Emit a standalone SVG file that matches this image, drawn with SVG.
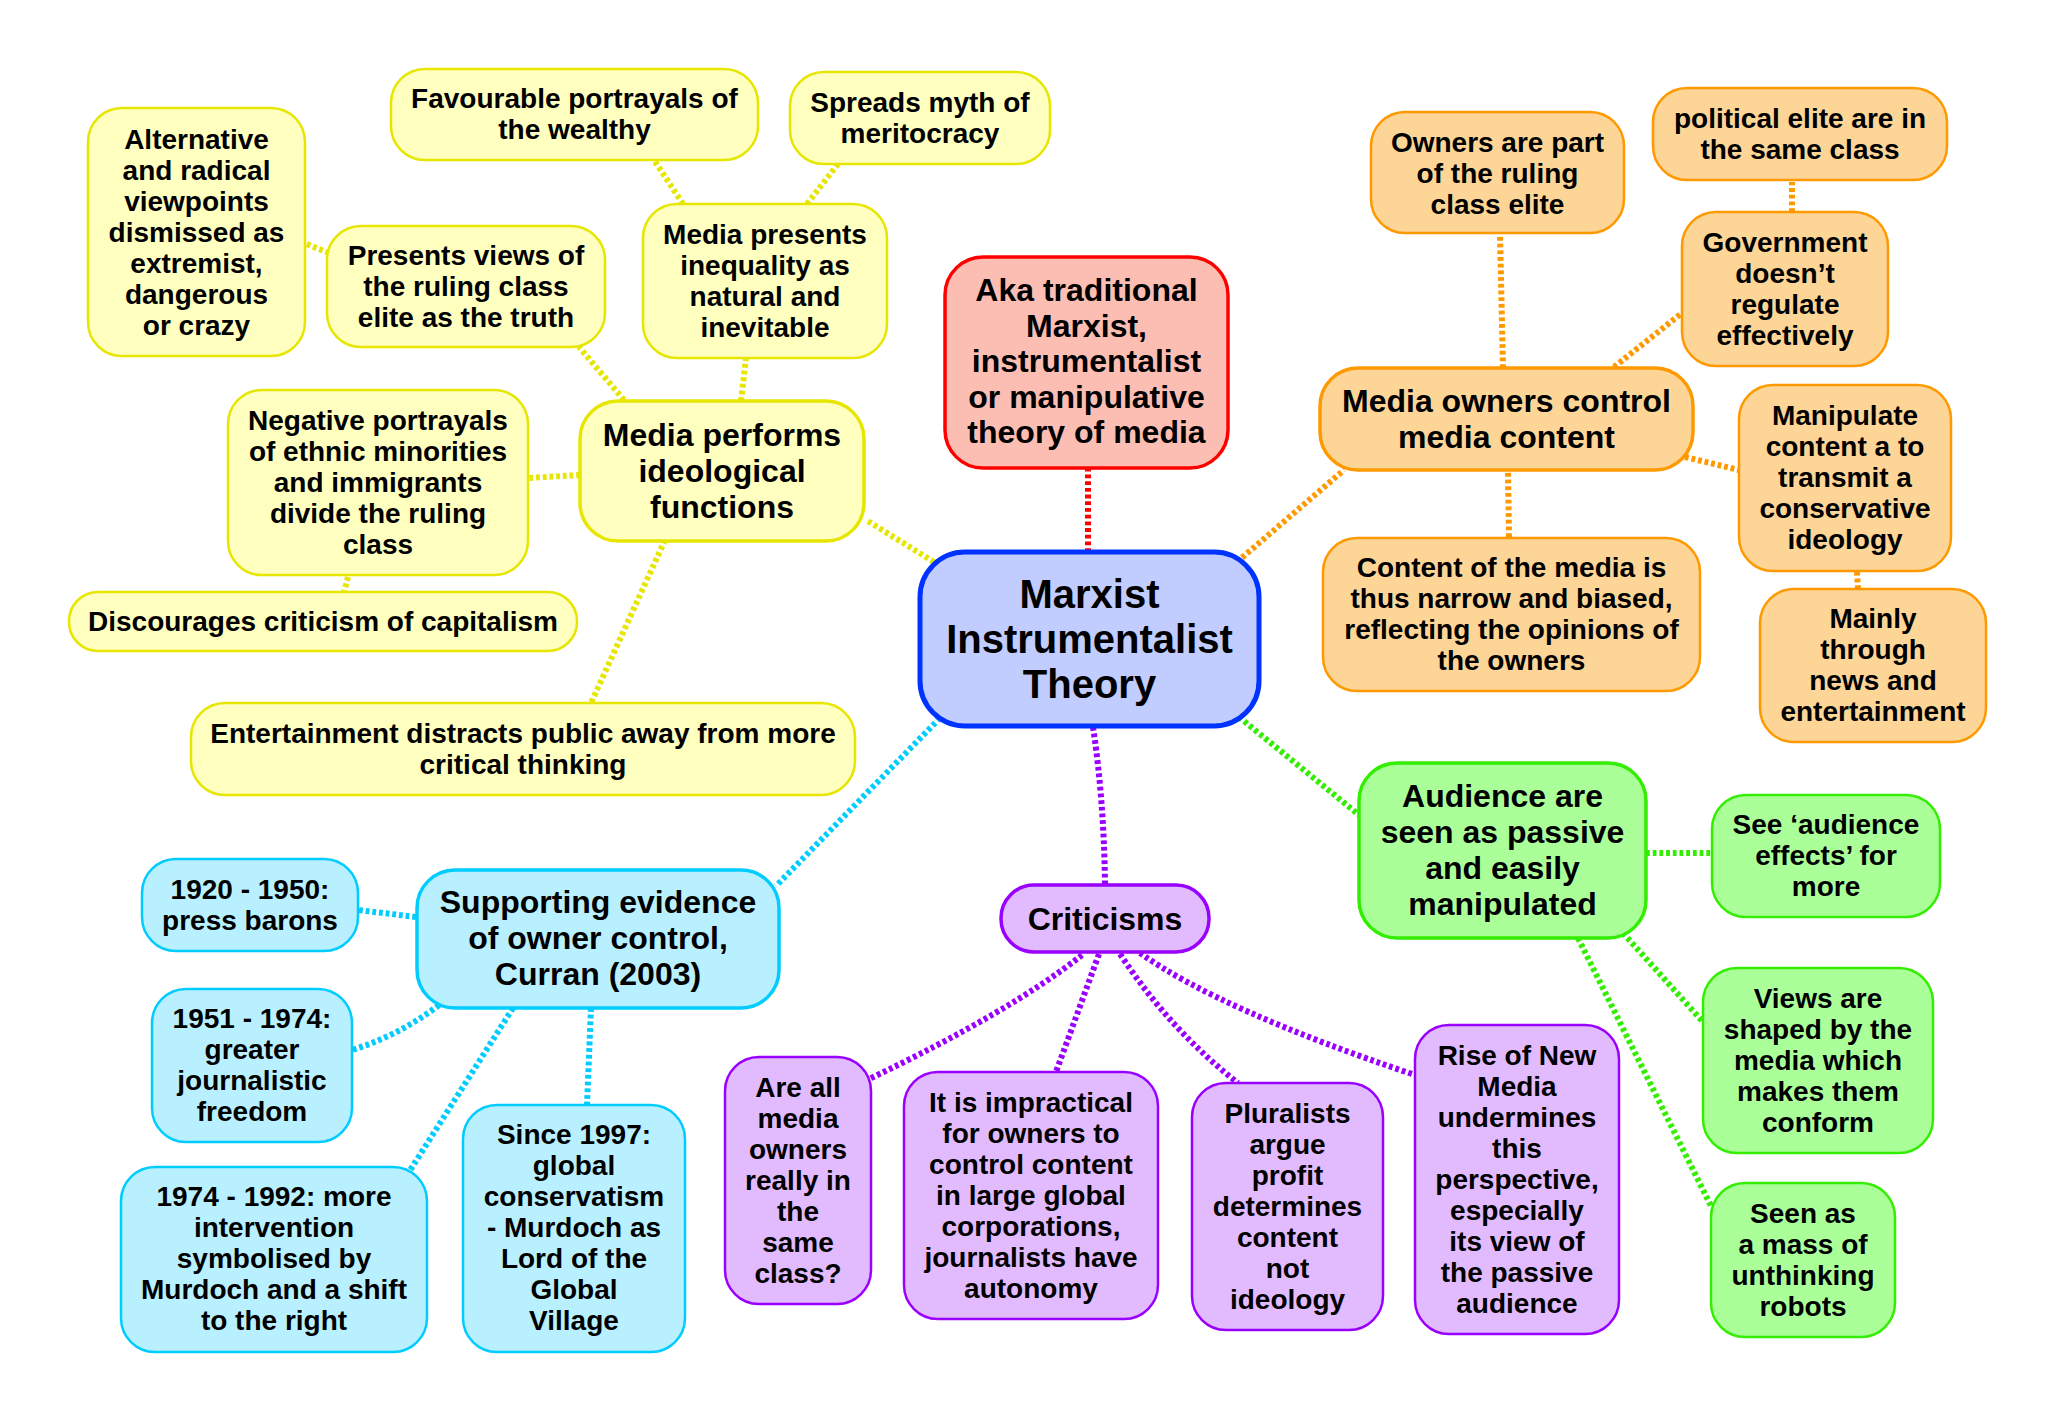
<svg xmlns="http://www.w3.org/2000/svg" width="2055" height="1422" viewBox="0 0 2055 1422">
<style>
text{font-family:"Liberation Sans",Arial,sans-serif;font-weight:bold;fill:#000;text-anchor:middle}
.s{font-size:28px}.m{font-size:32px}.c{font-size:40px}
.ln{fill:none;stroke-width:6;stroke-dasharray:3.8 2.9}
.y rect{fill:#FFFFC0;stroke:#E6E600}
.r rect{fill:#FCBDB3;stroke:#FF0000}
.b rect{fill:#C1CDFF;stroke:#0033FF}
.o rect{fill:#FDD597;stroke:#FF9900}
.g rect{fill:#AAFF99;stroke:#33EE00}
.p rect{fill:#E2BBFF;stroke:#9900FF}
.k rect{fill:#B9F0FF;stroke:#00CCFF}
rect{stroke-width:2.5}
.mn rect{stroke-width:3.5}
.ct rect{stroke-width:5}
</style>
<g id="connectors">
<g stroke="#E6E600">
<path class="ln" d="M934,562 L866,520"/>
<path class="ln" d="M624,400 L579,347"/>
<path class="ln" d="M741,401 L746,358"/>
<path class="ln" d="M683,204 L654,160"/>
<path class="ln" d="M807,204 L838,164"/>
<path class="ln" d="M329,253 L304,243"/>
<path class="ln" d="M580,475 L528,478"/>
<path class="ln" d="M348,577 L344,592"/>
<path class="ln" d="M665,540 L591,703"/>
</g>
<path class="ln" stroke="#FF0000" d="M1088,552 L1088,468"/>
<g stroke="#FF9900">
<path class="ln" d="M1237,562 L1344,470"/>
<path class="ln" d="M1503,368 L1500,234"/>
<path class="ln" d="M1614,367 L1682,313"/>
<path class="ln" d="M1792,212 L1792,182"/>
<path class="ln" d="M1685,457 L1739,470"/>
<path class="ln" d="M1858,589 L1857,572"/>
<path class="ln" d="M1509,537 L1508,471"/>
</g>
<g stroke="#33EE00">
<path class="ln" d="M1239,717 L1359,815"/>
<path class="ln" d="M1646,853 L1712,853"/>
<path class="ln" d="M1623,933 L1703,1022"/>
<path class="ln" d="M1578,938 L1712,1208"/>
</g>
<g stroke="#9900FF">
<path class="ln" d="M1093,727 Q1104,800 1105,885"/>
<path class="ln" d="M1082,955 Q1010,1012 867,1080"/>
<path class="ln" d="M1099,954 L1056,1072"/>
<path class="ln" d="M1120,954 Q1170,1030 1238,1083"/>
<path class="ln" d="M1140,953 Q1220,1010 1415,1075"/>
</g>
<g stroke="#00CCFF">
<path class="ln" d="M940,718 L776,886"/>
<path class="ln" d="M416,917 L358,910"/>
<path class="ln" d="M439,1005 Q400,1035 352,1050"/>
<path class="ln" d="M513,1008 L409,1172"/>
<path class="ln" d="M591,1008 L587,1105"/>
</g>
</g>
<g id="n-alternative" class="y"><rect x="88" y="108" width="217" height="248" rx="34"/><text class="s"><tspan x="196.5" y="149">Alternative</tspan><tspan x="196.5" y="180">and radical</tspan><tspan x="196.5" y="211">viewpoints</tspan><tspan x="196.5" y="242">dismissed as</tspan><tspan x="196.5" y="273">extremist,</tspan><tspan x="196.5" y="304">dangerous</tspan><tspan x="196.5" y="335">or crazy</tspan></text></g>
<g id="n-favourable" class="y"><rect x="391" y="69" width="367" height="91" rx="34"/><text class="s"><tspan x="574.5" y="108">Favourable portrayals of</tspan><tspan x="574.5" y="139">the wealthy</tspan></text></g>
<g id="n-spreads" class="y"><rect x="790" y="72" width="260" height="92" rx="34"/><text class="s"><tspan x="920" y="112">Spreads myth of</tspan><tspan x="920" y="143">meritocracy</tspan></text></g>
<g id="n-presents" class="y"><rect x="327" y="226" width="278" height="121" rx="34"/><text class="s"><tspan x="466" y="265">Presents views of</tspan><tspan x="466" y="296">the ruling class</tspan><tspan x="466" y="327">elite as the truth</tspan></text></g>
<g id="n-inequality" class="y"><rect x="643" y="204" width="244" height="154" rx="34"/><text class="s"><tspan x="765" y="244">Media presents</tspan><tspan x="765" y="275">inequality as</tspan><tspan x="765" y="306">natural and</tspan><tspan x="765" y="337">inevitable</tspan></text></g>
<g id="n-ideological" class="y mn"><rect x="580" y="401" width="284" height="140" rx="38"/><text class="m"><tspan x="722" y="446">Media performs</tspan><tspan x="722" y="482">ideological</tspan><tspan x="722" y="518">functions</tspan></text></g>
<g id="n-negative" class="y"><rect x="228" y="390" width="300" height="185" rx="34"/><text class="s"><tspan x="378" y="430">Negative portrayals</tspan><tspan x="378" y="461">of ethnic minorities</tspan><tspan x="378" y="492">and immigrants</tspan><tspan x="378" y="523">divide the ruling</tspan><tspan x="378" y="554">class</tspan></text></g>
<g id="n-discourages" class="y"><rect x="69" y="592" width="508" height="59" rx="29"/><text class="s"><tspan x="323" y="631">Discourages criticism of capitalism</tspan></text></g>
<g id="n-entertainment" class="y"><rect x="191" y="703" width="664" height="92" rx="34"/><text class="s"><tspan x="523" y="743">Entertainment distracts public away from more</tspan><tspan x="523" y="774">critical thinking</tspan></text></g>
<g id="n-aka" class="r mn"><rect x="945" y="257" width="283" height="211" rx="38"/><text class="m"><tspan x="1086.5" y="301">Aka traditional</tspan><tspan x="1086.5" y="336.5">Marxist,</tspan><tspan x="1086.5" y="372">instrumentalist</tspan><tspan x="1086.5" y="407.5">or manipulative</tspan><tspan x="1086.5" y="443">theory of media</tspan></text></g>
<g id="n-central" class="b ct"><rect x="920" y="552" width="339" height="174" rx="45"/><text class="c"><tspan x="1089.5" y="608">Marxist</tspan><tspan x="1089.5" y="653">Instrumentalist</tspan><tspan x="1089.5" y="698">Theory</tspan></text></g>
<g id="n-owners" class="o"><rect x="1371" y="112" width="253" height="121" rx="34"/><text class="s"><tspan x="1497.5" y="152">Owners are part</tspan><tspan x="1497.5" y="183">of the ruling</tspan><tspan x="1497.5" y="214">class elite</tspan></text></g>
<g id="n-political" class="o"><rect x="1653" y="88" width="294" height="92" rx="34"/><text class="s"><tspan x="1800" y="128">political elite are in</tspan><tspan x="1800" y="159">the same class</tspan></text></g>
<g id="n-government" class="o"><rect x="1682" y="212" width="206" height="154" rx="34"/><text class="s"><tspan x="1785" y="252">Government</tspan><tspan x="1785" y="283">doesn’t</tspan><tspan x="1785" y="314">regulate</tspan><tspan x="1785" y="345">effectively</tspan></text></g>
<g id="n-control" class="o mn"><rect x="1320" y="368" width="373" height="102" rx="38"/><text class="m"><tspan x="1506.5" y="412">Media owners control</tspan><tspan x="1506.5" y="448">media content</tspan></text></g>
<g id="n-manipulate" class="o"><rect x="1739" y="385" width="212" height="186" rx="34"/><text class="s"><tspan x="1845" y="425">Manipulate</tspan><tspan x="1845" y="456">content a to</tspan><tspan x="1845" y="487">transmit a</tspan><tspan x="1845" y="518">conservative</tspan><tspan x="1845" y="549">ideology</tspan></text></g>
<g id="n-mainly" class="o"><rect x="1760" y="589" width="226" height="153" rx="34"/><text class="s"><tspan x="1873" y="628">Mainly</tspan><tspan x="1873" y="659">through</tspan><tspan x="1873" y="690">news and</tspan><tspan x="1873" y="721">entertainment</tspan></text></g>
<g id="n-content" class="o"><rect x="1323" y="538" width="377" height="153" rx="34"/><text class="s"><tspan x="1511.5" y="577">Content of the media is</tspan><tspan x="1511.5" y="608">thus narrow and biased,</tspan><tspan x="1511.5" y="639">reflecting the opinions of</tspan><tspan x="1511.5" y="670">the owners</tspan></text></g>
<g id="n-audience" class="g mn"><rect x="1359" y="763" width="287" height="175" rx="38"/><text class="m"><tspan x="1502.5" y="807">Audience are</tspan><tspan x="1502.5" y="843">seen as passive</tspan><tspan x="1502.5" y="879">and easily</tspan><tspan x="1502.5" y="915">manipulated</tspan></text></g>
<g id="n-see" class="g"><rect x="1712" y="795" width="228" height="122" rx="34"/><text class="s"><tspan x="1826" y="834">See ‘audience</tspan><tspan x="1826" y="865">effects’ for</tspan><tspan x="1826" y="896">more</tspan></text></g>
<g id="n-views" class="g"><rect x="1703" y="968" width="230" height="185" rx="34"/><text class="s"><tspan x="1818" y="1008">Views are</tspan><tspan x="1818" y="1039">shaped by the</tspan><tspan x="1818" y="1070">media which</tspan><tspan x="1818" y="1101">makes them</tspan><tspan x="1818" y="1132">conform</tspan></text></g>
<g id="n-seen" class="g"><rect x="1711" y="1183" width="184" height="154" rx="34"/><text class="s"><tspan x="1803" y="1223">Seen as</tspan><tspan x="1803" y="1254">a mass of</tspan><tspan x="1803" y="1285">unthinking</tspan><tspan x="1803" y="1316">robots</tspan></text></g>
<g id="n-criticisms" class="p mn"><rect x="1001" y="885" width="208" height="67" rx="33"/><text class="m"><tspan x="1105" y="930">Criticisms</tspan></text></g>
<g id="n-areall" class="p"><rect x="725" y="1057" width="146" height="247" rx="34"/><text class="s"><tspan x="798" y="1097">Are all</tspan><tspan x="798" y="1128">media</tspan><tspan x="798" y="1159">owners</tspan><tspan x="798" y="1190">really in</tspan><tspan x="798" y="1221">the</tspan><tspan x="798" y="1252">same</tspan><tspan x="798" y="1283">class?</tspan></text></g>
<g id="n-impractical" class="p"><rect x="904" y="1072" width="254" height="247" rx="34"/><text class="s"><tspan x="1031" y="1112">It is impractical</tspan><tspan x="1031" y="1143">for owners to</tspan><tspan x="1031" y="1174">control content</tspan><tspan x="1031" y="1205">in large global</tspan><tspan x="1031" y="1236">corporations,</tspan><tspan x="1031" y="1267">journalists have</tspan><tspan x="1031" y="1298">autonomy</tspan></text></g>
<g id="n-pluralists" class="p"><rect x="1192" y="1083" width="191" height="247" rx="34"/><text class="s"><tspan x="1287.5" y="1123">Pluralists</tspan><tspan x="1287.5" y="1154">argue</tspan><tspan x="1287.5" y="1185">profit</tspan><tspan x="1287.5" y="1216">determines</tspan><tspan x="1287.5" y="1247">content</tspan><tspan x="1287.5" y="1278">not</tspan><tspan x="1287.5" y="1309">ideology</tspan></text></g>
<g id="n-rise" class="p"><rect x="1415" y="1025" width="204" height="309" rx="34"/><text class="s"><tspan x="1517" y="1065">Rise of New</tspan><tspan x="1517" y="1096">Media</tspan><tspan x="1517" y="1127">undermines</tspan><tspan x="1517" y="1158">this</tspan><tspan x="1517" y="1189">perspective,</tspan><tspan x="1517" y="1220">especially</tspan><tspan x="1517" y="1251">its view of</tspan><tspan x="1517" y="1282">the passive</tspan><tspan x="1517" y="1313">audience</tspan></text></g>
<g id="n-supporting" class="k mn"><rect x="417" y="870" width="362" height="138" rx="38"/><text class="m"><tspan x="598" y="913">Supporting evidence</tspan><tspan x="598" y="949">of owner control,</tspan><tspan x="598" y="985">Curran (2003)</tspan></text></g>
<g id="n-1920" class="k"><rect x="142" y="859" width="216" height="92" rx="34"/><text class="s"><tspan x="250" y="899">1920 - 1950:</tspan><tspan x="250" y="930">press barons</tspan></text></g>
<g id="n-1951" class="k"><rect x="152" y="989" width="200" height="153" rx="34"/><text class="s"><tspan x="252" y="1028">1951 - 1974:</tspan><tspan x="252" y="1059">greater</tspan><tspan x="252" y="1090">journalistic</tspan><tspan x="252" y="1121">freedom</tspan></text></g>
<g id="n-1974" class="k"><rect x="121" y="1167" width="306" height="185" rx="34"/><text class="s"><tspan x="274" y="1206">1974 - 1992: more</tspan><tspan x="274" y="1237">intervention</tspan><tspan x="274" y="1268">symbolised by</tspan><tspan x="274" y="1299">Murdoch and a shift</tspan><tspan x="274" y="1330">to the right</tspan></text></g>
<g id="n-1997" class="k"><rect x="463" y="1105" width="222" height="247" rx="34"/><text class="s"><tspan x="574" y="1144">Since 1997:</tspan><tspan x="574" y="1175">global</tspan><tspan x="574" y="1206">conservatism</tspan><tspan x="574" y="1237">- Murdoch as</tspan><tspan x="574" y="1268">Lord of the</tspan><tspan x="574" y="1299">Global</tspan><tspan x="574" y="1330">Village</tspan></text></g>
</svg>
